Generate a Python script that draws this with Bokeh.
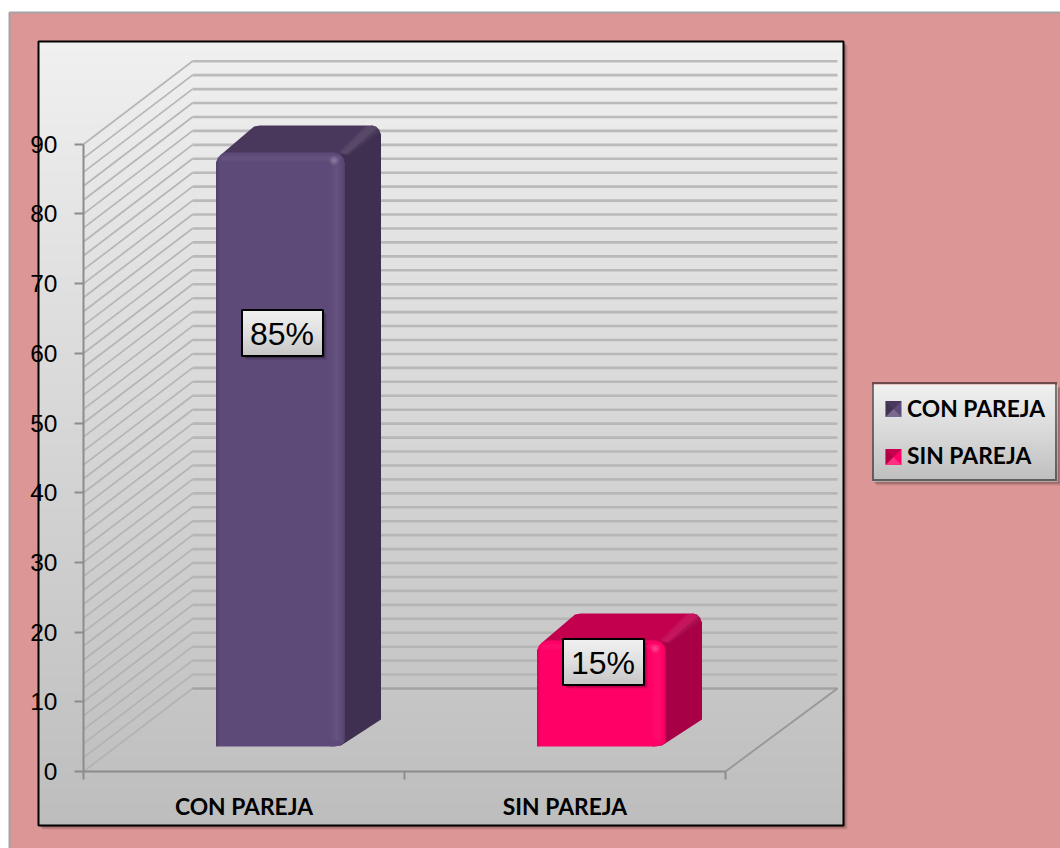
from bokeh.plotting import figure
from bokeh.models import Range1d, LinearAxis, FixedTicker, Legend, LegendItem
from bokeh.core.properties import value
from bokeh.embed import file_html
from bokeh.resources import INLINE

categories = ["CON PAREJA", "SIN PAREJA"]
values = [85, 15]
value_labels = ["85%", "15%"]
label_heights = [62.9, 15.7]
label_shift = [2.0, 2.0]
y_ticks = [0, 10, 20, 30, 40, 50, 60, 70, 80, 90]
grid_values = list(range(0, 92, 2))
x_edges = [0, 1, 2]
front_colors = ["#5E4A78", "#FF0066"]
side_colors = ["#3F2F50", "#A80046"]
top_colors = ["#4A385C", "#C2004E"]

# layout helpers: px size to data units, and page px to data position
SX, SY = 321.0, 6.97
X0, Y0 = 83.0, 771.0
W, H = 1060, 848
def dx(px): return px / SX
def dy(px): return px / SY
def X(px): return (px - X0) / SX
def Y(py): return (Y0 - py) / SY

p = figure(width=W, height=H, output_backend="svg", toolbar_location=None,
           x_range=Range1d(X(0), X(W)), y_range=Range1d(Y(H), Y(0)),
           x_axis_type=None, y_axis_type=None, min_border=0,
           background_fill_color="#ffffff", border_fill_color="#ffffff",
           outline_line_color=None)
p.grid.visible = False

def mix(a, b, t):
    ca = [int(a[i:i+2], 16) for i in (1, 3, 5)]
    cb = [int(b[i:i+2], 16) for i in (1, 3, 5)]
    return "#%02x%02x%02x" % tuple(round(u + (v - u) * t) for u, v in zip(ca, cb))

def vgrad(left, right, top, bottom, stops, step=3):
    """vertical gradient between page px rows"""
    ys = list(range(int(top), int(bottom), step))
    tops, bots, cols = [], [], []
    for y in ys:
        t = (y - top) / (bottom - top)
        if t < stops[1][0]:
            c = mix(stops[0][1], stops[1][1], t / stops[1][0])
        else:
            c = mix(stops[1][1], stops[2][1], (t - stops[1][0]) / (1 - stops[1][0]))
        tops.append(Y(y)); bots.append(Y(min(y + step + 1, bottom))); cols.append(c)
    p.quad(left=X(left), right=X(right), top=tops, bottom=bots, fill_color=cols, line_color=None)

def shadow(left, right, top, bottom):
    for off, a in ((4, 0.07), (3, 0.10), (2, 0.14)):
        p.quad(left=[X(left + off)], right=[X(right + off)], top=[Y(top + off)], bottom=[Y(bottom + off)],
               fill_color="#000000", fill_alpha=a, line_color=None)

# page panel
p.quad(left=[X(9)], right=[X(1064)], top=[Y(12)], bottom=[Y(852)], fill_color="#DC9695",
       line_color="#A3A3A3", line_width=2)

# chart panel
shadow(38, 843, 41, 825)
vgrad(38, 843, 41, 825, [(0, "#F0F0F0"), (0.5, "#D6D6D6"), (1, "#BDBDBD")])
p.quad(left=[X(38)], right=[X(843)], top=[Y(41)], bottom=[Y(825)], fill_color=None,
       line_color="#000000", line_width=2)

# 3D walls
DX, DXR, DY = dx(109), dx(112), dy(83)
p.multi_line([[0, DX] for v in grid_values], [[v, v + DY] for v in grid_values],
             line_color="#B0B0B0", line_width=1.7, line_alpha=0.9)
p.multi_line([[DX, 2 + DXR] for v in grid_values], [[v + DY, v + DY] for v in grid_values],
             line_color="#B2B2B2", line_width=2.6, line_alpha=0.85)
p.line([DX, 2 + DXR], [DY, DY], line_color="#A2A2A2", line_width=2)
p.line([2, 2 + DXR], [0, DY], line_color="#979797", line_width=1.8)

# bars
def pts(seq):
    return [s[0] for s in seq], [s[1] for s in seq]

for i, v in enumerate(values):
    cx = i + 0.5 + dx(36.5)
    lx, rx = cx - dx(64.5), cx + dx(64.5)
    by, ty = dy(25), v + dy(26.5)
    bx_d, by_d = dx(36), dy(27)
    sx, sy = pts([(rx - dx(14), by), (rx - dx(4), by + dy(1)), (rx + bx_d, by + by_d),
                  (rx + bx_d, ty + by_d - dy(9)), (rx + bx_d - dx(2), ty + by_d - dy(4)),
                  (rx + bx_d - dx(5), ty + by_d - dy(1)), (rx + bx_d - dx(9), ty + by_d),
                  (rx - dx(14), ty)])
    p.patch(sx, sy, fill_color=side_colors[i], line_color=None)
    tx, tyy = pts([(lx + dx(4), ty - dy(3)), (lx + dx(38), ty + by_d - dy(1)), (lx + dx(44), ty + by_d),
                   (rx + bx_d - dx(9), ty + by_d), (rx + bx_d - dx(4), ty + by_d - dy(2)),
                   (rx + dx(3), ty - dy(1)), (rx - dx(10), ty - dy(4))])
    p.patch(tx, tyy, fill_color=top_colors[i], line_color=None)
    # soft lighter bevel running along the top-right edge
    for w, a in ((7, .03), (5, .03), (3, .03)):
        hx, hy = pts([(rx - dx(w), ty), (rx + bx_d - dx(9 + w), ty + by_d), (rx + bx_d - dx(4), ty + by_d - dy(1)),
                      (rx + bx_d - dx(4) + dx(w / 2), ty + by_d - dy(w)), (rx + dx(w / 2), ty - dy(w / 2))])
        p.patch(hx, hy, fill_color="#FFFFFF", fill_alpha=a, line_color=None)

    fx, fy = pts([(lx, by), (rx - dx(10), by), (rx - dx(5), by + dy(1)), (rx - dx(1), by + dy(4)), (rx, by + dy(7)),
                  (rx, ty - dy(10)), (rx - dx(2), ty - dy(5)), (rx - dx(5), ty - dy(2)), (rx - dx(10), ty),
                  (lx + dx(10), ty), (lx + dx(5), ty - dy(2)), (lx + dx(2), ty - dy(5)), (lx, ty - dy(10))])
    p.patch(fx, fy, fill_color=front_colors[i], line_color=None)

    # soft bevels on the front face
    ins = dy(8)
    for off, c, a in ((0, "#000000", .13), (1, "#000000", .09), (2, "#000000", .05), (3, "#000000", .02)):
        p.quad(left=[lx + dx(off)], right=[lx + dx(off + 1)], top=[ty - ins], bottom=[by], fill_color=c, fill_alpha=a, line_color=None)
    for off, c, a in ((0, "#000000", .12), (1, "#000000", .07), (2, "#000000", .03), (4, "#FFFFFF", .01), (5, "#FFFFFF", .02),
                      (6, "#FFFFFF", .03), (7, "#FFFFFF", .04), (8, "#FFFFFF", .04), (9, "#FFFFFF", .04), (10, "#FFFFFF", .03),
                      (11, "#FFFFFF", .03), (12, "#FFFFFF", .02), (13, "#FFFFFF", .01)):
        p.quad(left=[rx - dx(off + 1)], right=[rx - dx(off)], top=[ty - ins], bottom=[by + dy(6)], fill_color=c, fill_alpha=a, line_color=None)
    for off, c, a in ((3, "#FFFFFF", .02), (4, "#FFFFFF", .04), (5, "#FFFFFF", .05), (6, "#FFFFFF", .05), (7, "#FFFFFF", .04),
                      (8, "#FFFFFF", .02), (9, "#FFFFFF", .01)):
        p.quad(left=[lx + dx(5)], right=[rx - dx(5)], top=[ty - dy(off)], bottom=[ty - dy(off + 1)], fill_color=c, fill_alpha=a, line_color=None)
    for size, a in ((10, .06), (7, .08), (4, .10)):
        p.scatter([rx - dx(11)], [ty - dy(8)], size=size, fill_color="#FFFFFF", fill_alpha=a, line_color=None)

# value labels
for i, lab in enumerate(value_labels):
    cx = i + 0.5 + dx(36.5 + label_shift[i])
    cy = label_heights[i]
    left, right = X0 + cx * SX - 40.5, X0 + cx * SX + 40.5
    top, bottom = Y0 - cy * SY - 23, Y0 - cy * SY + 23
    shadow(left, right, top, bottom)
    vgrad(left, right, top, bottom, [(0, "#F0F0F0"), (0.5, "#DEDEDE"), (1, "#C4C4C4")], step=2)
    p.quad(left=[X(left)], right=[X(right)], top=[Y(top)], bottom=[Y(bottom)], fill_color=None,
           line_color="#000000", line_width=2)
    p.text([cx - dx(0.5)], [cy - dy(1)], text=[lab], text_align="center", text_baseline="middle", text_color="#000000",
           text_font=value("Liberation Sans"), text_font_size="32px")

# axes
yaxis = LinearAxis(fixed_location=0, ticker=FixedTicker(ticks=y_ticks), bounds=(0, 90))
yaxis.axis_line_color = "#8C8C8C"; yaxis.axis_line_width = 2
yaxis.major_tick_line_color = "#8C8C8C"; yaxis.major_tick_line_width = 2
yaxis.major_tick_in = 0; yaxis.major_tick_out = 9; yaxis.minor_tick_line_color = None
yaxis.major_label_standoff = 17
yaxis.major_label_text_font = "Liberation Sans"; yaxis.major_label_text_font_size = "24.5px"
yaxis.major_label_text_color = "#000000"
p.add_layout(yaxis, "left")

xaxis = LinearAxis(fixed_location=0, ticker=FixedTicker(ticks=x_edges), bounds=(0, 2))
xaxis.axis_line_color = "#8C8C8C"; xaxis.axis_line_width = 2
xaxis.major_tick_line_color = "#8C8C8C"; xaxis.major_tick_line_width = 2
xaxis.major_tick_in = 0; xaxis.major_tick_out = 8; xaxis.minor_tick_line_color = None
xaxis.major_label_text_font_size = "0px"; xaxis.major_label_text_color = None
p.add_layout(xaxis, "below")

xlab = LinearAxis(fixed_location=0, ticker=FixedTicker(ticks=[0.5, 1.5]),
                  major_label_overrides={0.5: categories[0], 1.5: categories[1]})
xlab.axis_line_color = None; xlab.major_tick_line_color = None; xlab.minor_tick_line_color = None
xlab.major_label_standoff = 14
xlab.major_label_text_font = "Lato"; xlab.major_label_text_font_style = "bold"
xlab.major_label_text_font_size = "22.8px"; xlab.major_label_text_color = "#000000"
p.add_layout(xlab, "below")

# legend: gradient panel, hand-shaded swatches, then the legend on top
LL, LR, LT, LB = 872, 1057, 384, 481
shadow(LL, LR, LT, LB)
vgrad(LL, LR, LT, LB, [(0, "#F0F0F0"), (0.5, "#D8D8D8"), (1, "#BDBDBD")], step=2)
for i in range(2):
    l, r, t, b = 885, 901, 400.5 + i * 48, 416.5 + i * 48
    mx, my = (l + r) / 2, (t + b) / 2
    p.quad(left=[X(l)], right=[X(r)], top=[Y(t)], bottom=[Y(b)], fill_color=front_colors[i], line_color=None)
    for tri, col, a in (([(l, t), (r, t), (mx, my)], "#000000", .22),
                        ([(l, b), (r, b), (mx, my)], "#FFFFFF", .18),
                        ([(l, t), (l, b), (mx, my)], "#000000", .30)):
        p.patch([X(u[0]) for u in tri], [Y(u[1]) for u in tri], fill_color=col, fill_alpha=a, line_color=None)

key_renderers = [p.quad(left=[X(885)], right=[X(886)], top=[Y(400)], bottom=[Y(401)],
                        fill_color=front_colors[i], fill_alpha=0, line_color=None) for i in range(2)]
legend = Legend(items=[LegendItem(label=categories[i], renderers=[key_renderers[i]]) for i in range(2)],
                location=(LL, H - LB), orientation="vertical", margin=0, padding=10, spacing=19,
                glyph_width=20, glyph_height=20, label_height=24, label_standoff=3,
                background_fill_alpha=0, border_line_color="#000000", border_line_width=2,
                label_text_font="Lato", label_text_font_style="bold", label_text_font_size="22.8px",
                label_text_color="#000000")
p.add_layout(legend, "center")

open("out.html", "w").write(file_html(p, INLINE))
